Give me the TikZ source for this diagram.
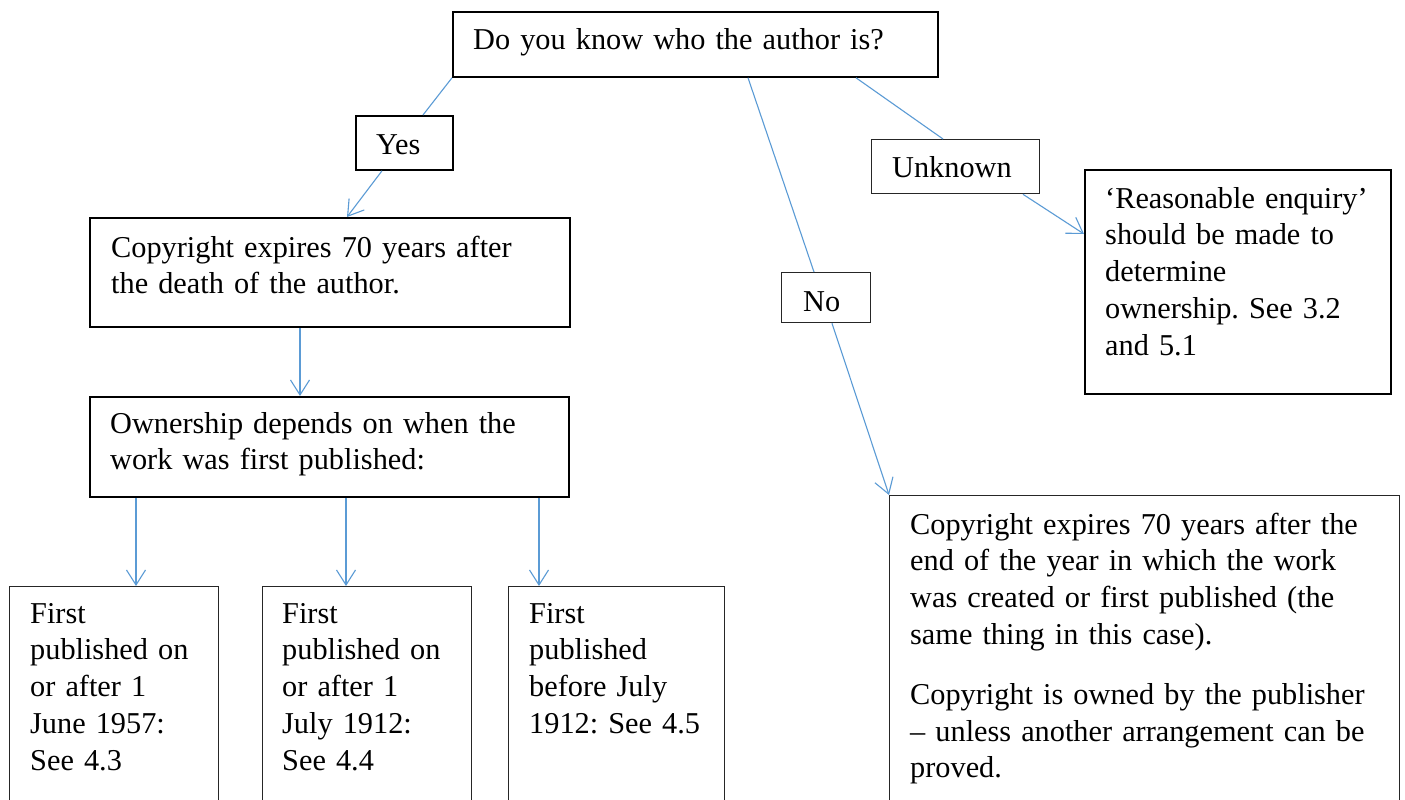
\documentclass[tikz,border=0pt]{standalone}
\usepackage{fontspec}
\setmainfont{Liberation Serif}
\usetikzlibrary{arrows.meta}
\definecolor{conn}{HTML}{5B9BD5}
\frenchspacing
\tikzset{
  box/.style={draw=black, line width=1.8pt, rectangle, inner sep=0pt, anchor=north west},
  thinbox/.style={box, line width=1.3pt, draw=black!85},
  txt/.style={anchor=base west, inner sep=0pt, text width=600pt, align=left,
    font=\fontsize{30.3}{36.8}\selectfont\frenchspacing},
  link/.style={draw=conn, line width=1.1pt},
  arr/.style={link, -{Straight Barb[length=15pt, width=19pt, line width=1.1pt]}}
}
\begin{document}
\begin{tikzpicture}[x=1pt, y=-1pt]
\fill[white] (0,0) rectangle (1405,800);
\useasboundingbox (0,0) rectangle (1405,800);

% boxes
\node[box, minimum width=485pt, minimum height=65pt] (q) at (452,11) {};
\node[txt] (qt) at (473,49) {Do you know who the author is?};

\node[box, minimum width=97pt, minimum height=54pt] (yes) at (355,115) {};
\node[txt] (yest) at (376,154) {Yes};

\node[box, minimum width=480pt, minimum height=109pt] (copy) at (89,217) {};
\node[txt] (copyt) at (111,257) {Copyright expires 70 years after\\the death of the author.};

\node[box, minimum width=479pt, minimum height=100pt] (own) at (89,396) {};
\node[txt] (ownt) at (110,433) {Ownership depends on when the\\work was first published:};

\node[thinbox, minimum width=209pt, minimum height=300pt] (b1) at (9,586) {};
\node[txt] (b1t) at (30,623) {First\\published on\\or after 1\\June 1957:\\See 4.3};

\node[thinbox, minimum width=209pt, minimum height=300pt] (b2) at (262,586) {};
\node[txt] (b2t) at (282,623) {First\\published on\\or after 1\\July 1912:\\See 4.4};

\node[thinbox, minimum width=216pt, minimum height=300pt] (b3) at (508,586) {};
\node[txt] (b3t) at (529,623) {First\\published\\before July\\1912: See 4.5};

\node[thinbox, minimum width=89pt, minimum height=50pt] (no) at (781,272) {};
\node[txt] (not) at (803,311) {No};

\node[thinbox, minimum width=168pt, minimum height=54pt] (unk) at (871,139) {};
\node[txt] (unkt) at (892,177) {Unknown};

\node[box, minimum width=306pt, minimum height=224pt] (rea) at (1084,169) {};
\node[txt] (reat) at (1105,208) {‘Reasonable enquiry’\\should be made to\\determine\\ownership. See 3.2\\and 5.1};

\node[thinbox, minimum width=510pt, minimum height=350pt] (pub) at (889,495) {};
\node[txt] (pubt) at (910,534) {Copyright expires 70 years after the\\end of the year in which the work\\was created or first published (the\\same thing in this case).\\[23pt]Copyright is owned by the publisher\\– unless another arrangement can be\\proved.};

% connectors
\draw[link] (q.south west) -- ([xshift=68pt]yes.north west);
\draw[arr] ([xshift=27pt]yes.south west) -- ([xshift=258pt]copy.north west);
\draw[arr] ([xshift=211pt]copy.south west) -- ([xshift=211pt]own.north west);
\draw[arr] ([xshift=47pt]own.south west) -- ([xshift=127pt]b1.north west);
\draw[arr] ([xshift=257pt]own.south west) -- ([xshift=84pt]b2.north west);
\draw[arr] ([xshift=450pt]own.south west) -- ([xshift=31pt]b3.north west);

\draw[link] ([xshift=296pt]q.south west) -- ([xshift=33pt]no.north west);
\draw[arr] ([xshift=51pt]no.south west) -- (pub.north west);

\draw[link] ([xshift=404pt]q.south west) -- ([xshift=72pt]unk.north west);
\draw[arr] ([xshift=152pt]unk.south west) -- ([yshift=-65pt]rea.north west);
\end{tikzpicture}
\end{document}
